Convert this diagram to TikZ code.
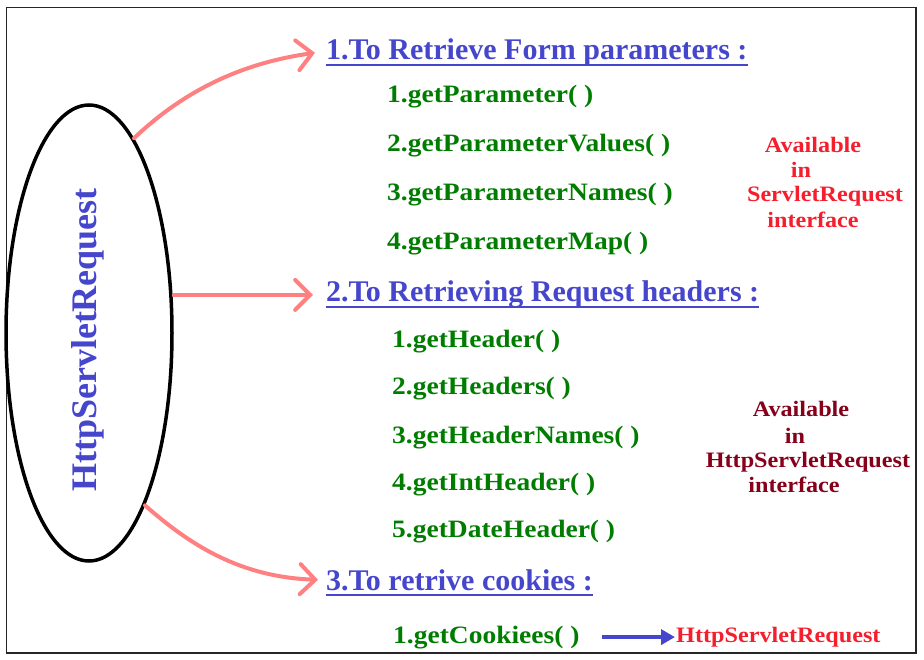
\documentclass[tikz,border=0pt]{standalone}
\usepackage{fontspec}
\setmainfont{Liberation Serif}
\newfontfamily\widefont{Liberation Serif}[FakeStretch=1.1]
\usetikzlibrary{shapes.geometric,arrows.meta}
\definecolor{headblue}{RGB}{70,70,205}
\definecolor{itemgreen}{RGB}{0,125,0}
\definecolor{notered}{RGB}{245,30,45}
\definecolor{notedark}{RGB}{135,0,25}
\definecolor{linkpink}{RGB}{255,128,128}
\tikzset{
  head/.style={anchor=base west,inner sep=0,text=headblue,font=\bfseries\fontsize{30}{30}\selectfont},
  item/.style={anchor=base west,inner sep=0,text=itemgreen,font=\widefont\bfseries\fontsize{25}{25}\selectfont},
  note/.style={anchor=base,inner sep=0,font=\widefont\bfseries\fontsize{22}{22}\selectfont},
  link/.style={draw=linkpink,line width=4pt,line cap=round,-{Straight Barb[length=15pt,width=30pt,line cap=round]}},
  pointer/.style={draw=headblue,line width=3.5pt,-{Triangle[length=14pt,width=15pt]}}
}
\begin{document}
\begin{tikzpicture}[x=1pt,y=-1pt]
\useasboundingbox (0,0) rectangle (924,660);
\draw[black!85,line width=1.3pt] (6.5,7.5) rectangle (916,653);
% the request object
\node[ellipse,draw,line width=3.5pt,minimum width=166pt,minimum height=456pt,inner sep=0] (req) at (89,333) {};
\node[rotate=90,text=headblue,font=\bfseries\fontsize{36}{36}\selectfont] (title) at (88,340) {HttpServletRequest};
% headings
\node[head] (h1) at (326,60) {1.To Retrieve Form parameters :};
\node[head] (h2) at (326,302) {2.To Retrieving Request headers :};
\node[head] (h3) at (326,590) {3.To retrive cookies :};
\foreach \h in {h1,h2,h3}
  \draw[headblue,line width=2.5pt] ([yshift=-5pt]\h.base west)--([yshift=-5pt]\h.base east);
% methods
\foreach \y/\t [count=\i] in {103/1.getParameter( ),152/2.getParameterValues( ),201/3.getParameterNames( ),250/4.getParameterMap( )}
  \node[item] (p\i) at (387,\y) {\t};
\foreach \y/\t [count=\i] in {348/1.getHeader( ),395/2.getHeaders( ),443/3.getHeaderNames( ),490/4.getIntHeader( ),537/5.getDateHeader( )}
  \node[item] (hd\i) at (392,\y) {\t};
\node[item] (ck1) at (393,643) {1.getCookiees( )};
% notes
\foreach \x/\y/\t [count=\i] in {813/153/Available,801/178/in,825/202/ServletRequest,813/228/interface}
  \node[note,text=notered] (sr\i) at (\x,\y) {\t};
\foreach \x/\y/\t [count=\i] in {801/417/Available,795/443/in,808/467/HttpServletRequest,794/492/interface}
  \node[note,text=notedark] (hr\i) at (\x,\y) {\t};
\node[note,anchor=base west,text=notered] (cls) at (676,642) {HttpServletRequest};
% arrows
\draw[link] (req.77) .. controls (190,85) and (250,62) .. ([xshift=-11pt]h1.west);
\draw[link] (req.east |- h2.west)--([xshift=-13pt]h2.west);
\draw[link] (req.-72) .. controls (190,545) and (240,577) .. ([xshift=-8pt]h3.west);
\draw[pointer] ([xshift=22pt]ck1.east)--([xshift=-1pt]cls.west |- ck1.east);
\end{tikzpicture}
\end{document}
